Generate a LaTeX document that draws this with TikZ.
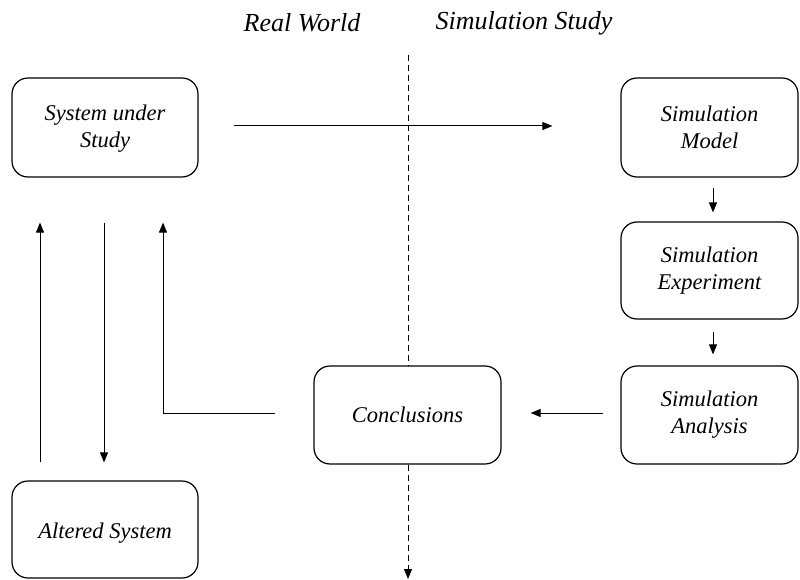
\documentclass[tikz,border=0pt]{standalone}
\usepackage{fontspec}
\setmainfont{Liberation Serif}
\usetikzlibrary{arrows.meta}
\begin{document}
\begin{tikzpicture}[x=1pt,y=-1pt,
  box/.style={draw, line width=1.2pt, rounded corners=16pt, fill=white,
    minimum width=#1, align=center, inner sep=0pt,
    font=\fontsize{22.5}{27}\selectfont\itshape},
  box/.default=186pt,
  head/.style={font=\fontsize{26}{30}\selectfont\itshape},
  arr/.style={line width=1pt, -{Triangle[length=10pt,width=8pt]}},
  divider/.style={line width=1pt, dash pattern=on 6pt off 4pt,
    -{Triangle[length=10pt,width=8pt]}}]
\useasboundingbox (0,0) rectangle (800,580);

% headers
\node[head] (rw) at (302,23) {Real World};
\node[head] (ss) at (524,23) {Simulation Study};

% dividing line between the two worlds
\coordinate (dtop) at (408,55);
\coordinate (dbot) at (408,579);
\draw[divider] (dtop) -- (dbot);

% boxes
\node[box, minimum height=99pt] (sys) at (105,127.5) {\raisebox{-1.5pt}[\height][\depth]{System under}\\\raisebox{-1.5pt}[\height][\depth]{Study}};
\node[box=177pt, minimum height=99pt] (model) at (709.5,127.5) {Simulation\\Model};
\node[box=177pt, minimum height=97pt] (exper) at (709.5,270.5) {Simulation\\Experiment};
\node[box=177pt, minimum height=98pt] (anal) at (709.5,415) {Simulation\\Analysis};
\node[box=187pt, minimum height=98pt] (concl) at (407.5,415) {Conclusions};
\node[box, minimum height=97pt] (alt) at (105,529.5) {\raisebox{-4pt}[\height][\depth]{Altered System}};

% connectors
\draw[arr, shorten <=35pt, shorten >=68pt] ([yshift=1.5pt]sys.east) -- ([yshift=1.5pt]model.west);
\draw[arr, shorten <=10pt, shorten >=9pt] ([xshift=3.5pt]model.south) -- ([xshift=3.5pt]exper.north);
\draw[arr, shorten <=12pt, shorten >=11pt] ([xshift=3.5pt]exper.south) -- ([xshift=3.5pt]anal.north);
\draw[arr, shorten <=17pt, shorten >=29pt] ([yshift=2pt]anal.west) -- ([yshift=2pt]concl.west -| concl.east);

\coordinate (fb) at (163,413);
\draw[arr, shorten <=38pt, shorten >=45pt] ([yshift=2pt]concl.west) -| (fb |- sys.south);

\draw[arr, shorten <=18pt, shorten >=45pt] ([xshift=-65pt]alt.north) -- ([xshift=-65pt]sys.south);
\draw[arr, shorten <=45pt, shorten >=18pt] ([xshift=-1pt]sys.south) -- ([xshift=-1pt]alt.north);
\end{tikzpicture}
\end{document}
